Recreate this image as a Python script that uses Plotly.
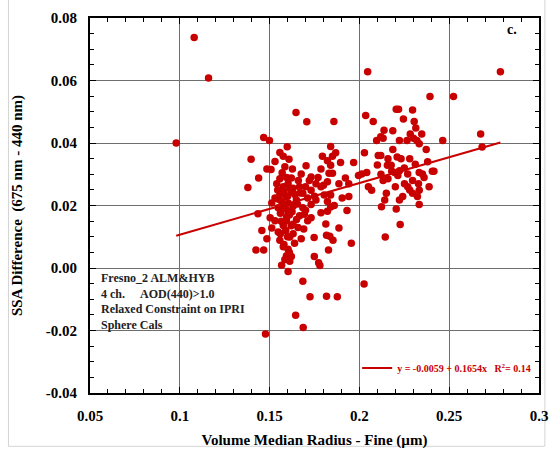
import plotly.graph_objects as go

# Fine-mode volume median radius (um) and SSA difference (675 nm - 440 nm)
radius = [
    0.098, 0.108, 0.116, 0.2046, 0.2785, 0.2393, 0.2524, 0.2675, 0.2683, 0.2464,
    0.1647, 0.1707, 0.1467, 0.1499, 0.1598, 0.1397, 0.1557, 0.1576, 0.1608, 0.1530,
    0.1703, 0.1485, 0.1508, 0.1585, 0.1627, 0.1439, 0.1379, 0.1557, 0.1621, 0.1676,
    0.1731, 0.1786, 0.1794, 0.1822, 0.1840, 0.1576, 0.1603, 0.1631, 0.1667, 0.1721,
    0.1758, 0.1557, 0.1594, 0.1621, 0.1685, 0.1731, 0.1786, 0.1822, 0.1567, 0.1530,
    0.1512, 0.1603, 0.1649, 0.1712, 0.1758, 0.1804, 0.1548, 0.1594, 0.1631, 0.1685,
    0.1731, 0.1457, 0.1435, 0.1424, 0.1467, 0.1603, 0.1685, 0.1725, 0.1645, 0.1687,
    0.1477, 0.1817, 0.1748, 0.1749, 0.1773, 0.1780, 0.1813, 0.1817, 0.1485, 0.1512,
    0.1557, 0.1576, 0.1603, 0.1594, 0.1621, 0.1585, 0.1567, 0.1612, 0.1594, 0.1631,
    0.1658, 0.1676, 0.1639, 0.1612, 0.1548, 0.1530, 0.1503, 0.1576, 0.1712, 0.1731,
    0.1694, 0.1667, 0.1786, 0.1822,
    0.2205, 0.2218, 0.2296, 0.2035, 0.2245, 0.2077, 0.1858, 0.2305, 0.2314, 0.2137,
    0.2186, 0.2283, 0.2347, 0.2119, 0.2132, 0.2096, 0.2223, 0.2265, 0.2301, 0.2320,
    0.2333, 0.1868, 0.1850, 0.2028, 0.2186, 0.2372, 0.2105, 0.2119, 0.2159, 0.2232,
    0.1895, 0.1968, 0.2156, 0.2177, 0.2311, 0.1840, 0.1831, 0.1850, 0.2196, 0.2223,
    0.2269, 0.2333, 0.2351, 0.2406, 0.2415, 0.1995, 0.2013, 0.2041, 0.1922, 0.1941,
    0.1886, 0.2132, 0.2159, 0.2214, 0.2251, 0.2296, 0.2329, 0.2269, 0.2388, 0.2333,
    0.2150, 0.2241, 0.2296, 0.2323, 0.2050, 0.2068, 0.1904, 0.1941, 0.1840, 0.1822,
    0.2141, 0.2223, 0.2123, 0.2205, 0.2333, 0.1931, 0.2227, 0.2144, 0.1886, 0.1955,
    0.1835, 0.1853, 0.1828, 0.2026, 0.1877, 0.1840, 0.1860,
    0.1540, 0.1560, 0.1580, 0.1610, 0.1640, 0.1660, 0.1700, 0.1620, 0.1690, 0.1570,
    0.1595, 0.1650,
    0.1550, 0.1575, 0.1600, 0.1615, 0.1595, 0.1565, 0.1625, 0.1655, 0.1670, 0.1590,
    0.1600, 0.1560, 0.1630, 0.1580, 0.1610, 0.1545, 0.1700, 0.1750, 0.1770, 0.1800,
    0.2180, 0.2250, 0.2280, 0.2200, 0.2280, 0.2120, 0.2360, 0.2210, 0.2100, 0.2380,
]
ssa_diff = [
    0.0400, 0.0738, 0.0608, 0.0628, 0.0628, 0.0549, 0.0549, 0.0429, 0.0387, 0.0408,
    0.0498, 0.0468, 0.0418, 0.0408, 0.0388, 0.0348, 0.0370, 0.0358, 0.0348, 0.0341,
    0.0327, 0.0317, 0.0315, 0.0324, 0.0317, 0.0288, 0.0258, 0.0286, 0.0288, 0.0301,
    0.0291, 0.0317, 0.0358, 0.0343, 0.0389, 0.0260, 0.0270, 0.0255, 0.0260, 0.0280,
    0.0270, 0.0234, 0.0229, 0.0244, 0.0239, 0.0249, 0.0260, 0.0276, 0.0213, 0.0224,
    0.0208, 0.0208, 0.0218, 0.0224, 0.0218, 0.0234, 0.0193, 0.0187, 0.0198, 0.0193,
    0.0203, 0.0120, 0.0174, 0.0058, 0.0058, -0.0011, -0.0042, -0.0092, -0.0151, -0.0190,
    -0.0211, -0.0090, 0.0098, 0.0037, 0.0017, 0.0008, 0.0141, 0.0105, 0.0094, 0.0128,
    0.0089, 0.0068, 0.0060, 0.0039, 0.0037, 0.0027, 0.0009, 0.0022, 0.0151, 0.0110,
    0.0130, 0.0094, 0.0079, 0.0099, 0.0115, 0.0151, 0.0161, 0.0136, 0.0151, 0.0161,
    0.0172, 0.0167, 0.0177, 0.0182,
    0.0508, 0.0508, 0.0506, 0.0488, 0.0477, 0.0469, 0.0469, 0.0469, 0.0448, 0.0441,
    0.0439, 0.0429, 0.0429, 0.0420, 0.0415, 0.0408, 0.0408, 0.0408, 0.0415, 0.0408,
    0.0398, 0.0369, 0.0358, 0.0369, 0.0379, 0.0379, 0.0360, 0.0360, 0.0350, 0.0350,
    0.0338, 0.0338, 0.0329, 0.0329, 0.0332, 0.0329, 0.0303, 0.0303, 0.0306, 0.0311,
    0.0301, 0.0306, 0.0301, 0.0310, 0.0310, 0.0296, 0.0301, 0.0306, 0.0288, 0.0270,
    0.0270, 0.0280, 0.0286, 0.0296, 0.0270, 0.0280, 0.0270, 0.0260, 0.0260, 0.0249,
    0.0239, 0.0229, 0.0239, 0.0229, 0.0260, 0.0249, 0.0224, 0.0229, 0.0234, 0.0213,
    0.0218, 0.0218, 0.0196, 0.0189, 0.0203, 0.0184, 0.0139, 0.0099, 0.0128, 0.0079,
    0.0102, 0.0089, 0.0058, -0.0051, -0.0092, 0.0195, 0.0200,
    0.0270, 0.0175, 0.0245, 0.0170, 0.0235, 0.0280, 0.0260, 0.0135, 0.0125, 0.0305,
    0.0290, 0.0155,
    0.0220, 0.0195, 0.0230, 0.0255, 0.0165, 0.0150, 0.0180, 0.0205, 0.0240, 0.0120,
    0.0100, 0.0110, 0.0140, 0.0075, 0.0050, 0.0250, 0.0185, 0.0230, 0.0290, 0.0265,
    0.0310, 0.0320, 0.0350, 0.0260, 0.0250, 0.0300, 0.0290, 0.0355, 0.0330, 0.0340,
]

# Linear fit reported for the data
fit_intercept = -0.0059
fit_slope = 0.1654
fit_r2 = 0.14

x_tickvals = [0.05, 0.10, 0.15, 0.20, 0.25, 0.30]
x_ticktext = ["0.05", "0.1", "0.15", "0.2", "0.25", "0.3"]
y_tickvals = [-0.04, -0.02, 0.00, 0.02, 0.04, 0.06, 0.08]
y_ticktext = ["-0.04", "-0.02", "0.00", "0.02", "0.04", "0.06", "0.08"]

info_lines = [
    "Fresno_2 ALM&amp;HYB",
    "4 ch.&nbsp;&nbsp;&nbsp;&nbsp;&nbsp;AOD(440)&gt;1.0",
    "Relaxed Constraint on IPRI",
    "Sphere Cals",
]

SERIF = "Liberation Serif, Times New Roman, serif"
RED = "#c80000"

fit_x = [min(radius), max(radius)]
fit_y = [fit_intercept + fit_slope * v for v in fit_x]

fig = go.Figure()
fig.add_trace(go.Scatter(
    x=radius, y=ssa_diff, mode="markers",
    marker=dict(size=7.5, color=RED, line=dict(width=0)),
    showlegend=False, cliponaxis=False,
))
fig.add_trace(go.Scatter(
    x=fit_x, y=fit_y, mode="lines",
    line=dict(color=RED, width=2),
    name=f"y = {fit_intercept:.4f} + {fit_slope:.4f}x&nbsp;&nbsp;&nbsp;R<sup>2</sup>= {fit_r2:.2f}",
    showlegend=True,
))

axis_common = dict(
    showline=True, linecolor="black", linewidth=2, mirror="allticks",
    ticks="inside", ticklen=6, tickwidth=1, tickcolor="black",
    showgrid=True, gridcolor="#6e6e6e", gridwidth=1,
    zeroline=False,
    tickfont=dict(family=SERIF, size=15, color="black", weight="bold"),
)

fig.update_xaxes(
    **axis_common,
    range=[0.05, 0.3], tickmode="array", tickvals=x_tickvals, ticktext=x_ticktext,
    ticklabelstandoff=8,
    minor=dict(ticks="inside", ticklen=4, tickcolor="black", dtick=0.01, tick0=0.05, showgrid=False),
    title=dict(text="Volume Median Radius - Fine (\u00b5m)",
               font=dict(family=SERIF, size=15, color="black", weight="bold"), standoff=11),
)
fig.update_yaxes(
    **axis_common,
    range=[-0.04, 0.08], tickmode="array", tickvals=y_tickvals, ticktext=y_ticktext,
    ticklabelstandoff=8,
    minor=dict(ticks="inside", ticklen=4, tickcolor="black", dtick=0.005, tick0=0.0, showgrid=False),
    title=dict(text="SSA Difference&nbsp;&nbsp;(675 nm - 440 nm)",
               font=dict(family=SERIF, size=15, color="black", weight="bold"), standoff=20),
)

fig.add_annotation(
    xref="paper", yref="paper", x=0.02, y=0.33, xanchor="left", yanchor="top",
    text="<br>".join(info_lines), align="left", showarrow=False,
    font=dict(family=SERIF, size=12, color="#222222", weight="bold"),
)
fig.add_annotation(
    xref="paper", yref="paper", x=0.94, y=0.97, xanchor="center", yanchor="middle",
    text="c.", showarrow=False,
    font=dict(family=SERIF, size=14, color="black", weight="bold"),
)

# light outer frame around the figure
fig.add_shape(type="rect", xref="paper", yref="paper",
              x0=-0.1816, x1=1.0131, y0=-0.1421, y1=1.1,
              line=dict(color="#d4d4d4", width=1), layer="below")

fig.update_layout(
    width=558, height=456,
    margin=dict(l=90, r=11, t=10, b=59),
    paper_bgcolor="white", plot_bgcolor="white",
    font=dict(family=SERIF),
    legend=dict(
        x=0.595, y=0.067, xanchor="left", yanchor="middle",
        bgcolor="rgba(0,0,0,0)", borderwidth=0,
        font=dict(family=SERIF, size=10, color=RED, weight="bold"),
        itemwidth=30,
    ),
)

fig.write_html("out.html")
